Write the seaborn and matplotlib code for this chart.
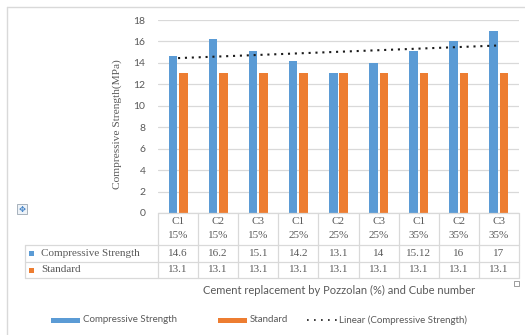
import numpy as np
import pandas as pd
import matplotlib
matplotlib.use("Agg")
import matplotlib.pyplot as plt
import seaborn as sns
from matplotlib.transforms import blended_transform_factory
from matplotlib.lines import Line2D
from matplotlib.patches import Rectangle

# Chart data
cubes = ["C1", "C2", "C3", "C1", "C2", "C3", "C1", "C2", "C3"]
replacement = ["15%", "15%", "15%", "25%", "25%", "25%", "35%", "35%", "35%"]
compressive = [14.6, 16.2, 15.1, 14.2, 13.1, 14, 15.12, 16, 17]
standard = [13.1, 13.1, 13.1, 13.1, 13.1, 13.1, 13.1, 13.1, 13.1]
series_names = ["Compressive Strength", "Standard"]
trend_name = "Linear (Compressive Strength)"
y_ticks = [0, 2, 4, 6, 8, 10, 12, 14, 16, 18]

BLUE = "#5B9BD5"
ORANGE = "#ED7D31"
TEXT = "#595959"
LINE = "#d9d9d9"
TREND = "#1a1a1a"
SANS = ["Lato", "DejaVu Sans"]
SERIF = ["Liberation Serif", "DejaVu Serif"]

W, H = 525, 335


def fx(px):
    return px / W


def fy(py):
    return 1 - py / H


groups = [f"{c}\n{r}" for c, r in zip(cubes, replacement)]
df = pd.DataFrame({
    "group": groups * 2,
    "value": compressive + standard,
    "series": [series_names[0]] * len(groups) + [series_names[1]] * len(groups),
})

sns.set_theme(style="white")
plt.rcParams["font.family"] = SANS

fig = plt.figure(figsize=(W / 100, H / 100), dpi=100)
ax = fig.add_axes([fx(158), fy(213), fx(519) - fx(158), fy(20) - fy(213)])

sns.barplot(data=df, x="group", y="value", hue="series", order=groups,
            hue_order=series_names, palette=[BLUE, ORANGE], saturation=1,
            width=0.52, gap=0.18, legend=False, ax=ax, linewidth=0)

# Linear trendline of compressive strength
xs = np.arange(len(compressive))
slope, intercept = np.polyfit(xs + 1, compressive, 1)
ax.plot(xs, slope * (xs + 1) + intercept, color=TREND, lw=1.5,
        linestyle=(0, (1, 2.3)))

ax.set_xlim(-0.5, len(groups) - 0.5)
ax.set_ylim(0, 18)
ax.set_yticks(y_ticks)
ax.set_xticks([])
ax.set_xlabel("")
ax.set_ylabel("")
ax.yaxis.grid(True, color=LINE, lw=0.9)
ax.set_axisbelow(True)
for s in ax.spines.values():
    s.set_visible(False)
ax.tick_params(axis="y", length=0, pad=9, labelcolor=TEXT, labelsize=7.5)

fig.text(fx(117), fy(124), "Compressive Strength(MPa)", rotation=90,
         ha="center", va="center", color=TEXT, fontsize=8.2, family=SERIF)

# Data table beneath the axis
bt = blended_transform_factory(ax.transData, fig.transFigure)
for i in range(len(groups) + 1):
    fig.add_artist(Line2D([i - 0.5, i - 0.5], [fy(213), fy(278)],
                          transform=bt, color=LINE, lw=0.9))
for py in (213, 245, 262, 278):
    x0 = 158 if py == 213 else 25
    fig.add_artist(Line2D([fx(x0), fx(519)], [fy(py), fy(py)],
                          transform=fig.transFigure, color=LINE, lw=0.9))
fig.add_artist(Line2D([fx(25), fx(25)], [fy(245), fy(278)],
                      transform=fig.transFigure, color=LINE, lw=0.9))

for i, (c, r, v, s) in enumerate(zip(cubes, replacement, compressive, standard)):
    fig.text(i, fy(221), c, transform=bt, ha="center", va="center",
             color=TEXT, fontsize=8, family=SERIF)
    fig.text(i, fy(236), r, transform=bt, ha="center", va="center",
             color=TEXT, fontsize=8, family=SERIF)
    fig.text(i, fy(253.5), f"{v:g}", transform=bt, ha="center", va="center",
             color=TEXT, fontsize=8, family=SERIF)
    fig.text(i, fy(270), f"{s:g}", transform=bt, ha="center", va="center",
             color=TEXT, fontsize=8, family=SERIF)

for name, color, py in ((series_names[0], BLUE, 253.5), (series_names[1], ORANGE, 270)):
    fig.add_artist(Rectangle((fx(29), fy(py + 2.5)), fx(5), 5 / H,
                             transform=fig.transFigure, color=color, lw=0))
    fig.text(fx(41), fy(py), name, ha="left", va="center", color=TEXT,
             fontsize=8, family=SERIF)

fig.text(fx(339), fy(290), "Cement replacement by Pozzolan (%) and Cube number",
         ha="center", va="center", color=TEXT, fontsize=8)

# Legend row along the bottom
LEG_Y = 320
for x0, color, name in ((51, BLUE, series_names[0]), (218, ORANGE, series_names[1])):
    fig.add_artist(Rectangle((fx(x0), fy(LEG_Y + 2.5)), 29 / W, 5 / H,
                             transform=fig.transFigure, color=color, lw=0))
    fig.text(fx(x0 + 32), fy(LEG_Y), name, ha="left", va="center",
             color=TEXT, fontsize=7)
fig.add_artist(Line2D([fx(307), fx(337)], [fy(LEG_Y), fy(LEG_Y)],
                      transform=fig.transFigure, color=TREND, lw=1.2,
                      linestyle=(0, (1, 3.2))))
fig.text(fx(339), fy(LEG_Y), trend_name, ha="left", va="center",
         color=TEXT, fontsize=7)

# Frame and small markers
fig.add_artist(Line2D([fx(7), fx(525)], [fy(7), fy(7)],
                      transform=fig.transFigure, color=LINE, lw=1))
fig.add_artist(Line2D([fx(7), fx(7)], [fy(7), fy(335)],
                      transform=fig.transFigure, color=LINE, lw=1))
fig.add_artist(Rectangle((fx(17), fy(214)), 10 / W, 10 / H,
                         transform=fig.transFigure, facecolor="#eef3f8",
                         edgecolor="#9aa6b2", lw=0.6))
fig.text(fx(22), fy(209), "\u2725", ha="center", va="center",
         color="#3b7dc4", fontsize=6, family=["DejaVu Sans"])
fig.add_artist(Rectangle((fx(514), fy(286)), 5 / W, 5 / H,
                         transform=fig.transFigure, facecolor="white",
                         edgecolor="#8c8c8c", lw=0.6))

fig.savefig("out.png", dpi=100)
